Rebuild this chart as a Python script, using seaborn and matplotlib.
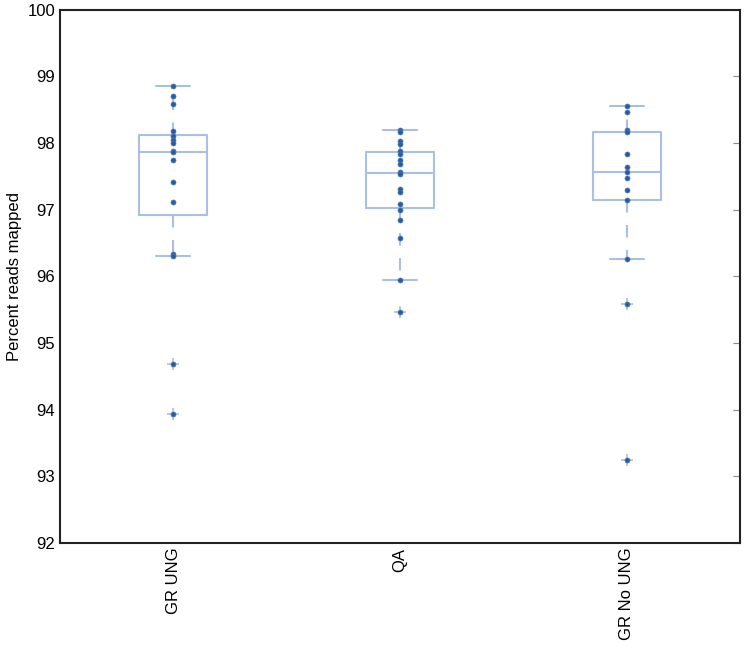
import pandas as pd
import matplotlib
matplotlib.use("Agg")
import matplotlib.pyplot as plt
import seaborn as sns

groups = ["GR UNG", "QA", "GR No UNG"]

gr_ung = [98.86, 98.71, 98.59, 98.18, 98.10, 98.05, 98.00, 97.88, 97.86,
          97.74, 97.42, 97.11, 96.33, 96.30, 94.68, 93.93]
qa = [98.20, 98.17, 98.03, 97.98, 97.88, 97.84, 97.74, 97.68, 97.56,
      97.54, 97.31, 97.27, 97.08, 97.00, 96.85, 96.58, 95.94, 95.47]
gr_no_ung = [98.56, 98.46, 98.19, 98.17, 97.83, 97.64, 97.56, 97.47,
             97.30, 97.15, 96.26, 95.58, 93.24]

values = {"GR UNG": gr_ung, "QA": qa, "GR No UNG": gr_no_ung}
df = pd.DataFrame([(g, v) for g in groups for v in values[g]],
                  columns=["group", "pct"])

sns.set_style("white")
plt.rcParams["font.family"] = ["Liberation Sans", "DejaVu Sans"]
plt.rcParams["text.color"] = "black"
plt.rcParams["axes.labelcolor"] = "black"

light = "#a9c0e4"
dark = "#2d5c9c"

fig = plt.figure(figsize=(7.5, 6.5), dpi=100)
ax = fig.add_axes([0.08, 0.165, 0.907, 0.82])

sns.boxplot(data=df, x="group", y="pct", order=groups, ax=ax,
            fill=False, width=0.3, color=light, linewidth=1.5,
            boxprops=dict(color=light),
            whiskerprops=dict(linestyle=(0, (6, 6)), color=light),
            capprops=dict(color=light),
            medianprops=dict(color=light),
            flierprops=dict(marker="+", markeredgecolor=light,
                            markersize=9, markeredgewidth=1.2))
sns.stripplot(data=df, x="group", y="pct", order=groups, ax=ax,
              jitter=False, color=dark, size=3.6, linewidth=0.5,
              edgecolor="#4a78b8", zorder=3)

ax.set_ylim(92, 100)
ax.set_xlim(-0.5, 2.5)
ax.set_yticks(range(92, 101))
ax.set_xlabel("")
ax.set_ylabel("Percent reads mapped", fontsize=12)
ax.tick_params(axis="y", direction="in", length=5, labelsize=12,
               right=True, color="#888888", labelcolor="black")
ax.tick_params(axis="x", direction="in", length=5, labelsize=12,
               rotation=90, color="#aaaaaa", labelcolor="black")
for s in ax.spines.values():
    s.set_color("#222222")
    s.set_linewidth(1.5)

fig.savefig("out.png", dpi=100)
